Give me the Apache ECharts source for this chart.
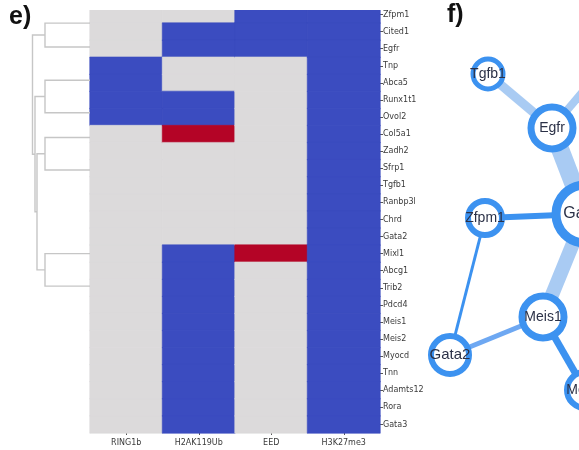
<!DOCTYPE html>
<html>
<head>
<meta charset="utf-8">
<script src="https://cdn.jsdelivr.net/npm/echarts@6/dist/echarts.min.js"></script>
<style>html,body{margin:0;padding:0;background:#fff}#container{width:579px;height:450px}</style>
</head>
<body>
<div id="container"></div>
<script>
// heatmap: 0 = grey, 1 = blue, 2 = red
const genes = ['Zfpm1', 'Cited1', 'Egfr', 'Tnp', 'Abca5', 'Runx1t1', 'Ovol2', 'Col5a1', 'Zadh2', 'Sfrp1',
    'Tgfb1', 'Ranbp3l', 'Chrd', 'Gata2', 'Mixl1', 'Abcg1', 'Trib2', 'Pdcd4', 'Meis1', 'Meis2',
    'Myocd', 'Tnn', 'Adamts12', 'Rora', 'Gata3'];
const marks = ['RING1b', 'H2AK119Ub', 'EED', 'H3K27me3'];
const ring1b = [0, 0, 0, 1, 1, 1, 1, 0, 0, 0, 0, 0, 0, 0, 0, 0, 0, 0, 0, 0, 0, 0, 0, 0, 0];
const h2ak119ub = [0, 1, 1, 0, 0, 1, 1, 2, 0, 0, 0, 0, 0, 0, 1, 1, 1, 1, 1, 1, 1, 1, 1, 1, 1];
const eed = [1, 1, 1, 0, 0, 0, 0, 0, 0, 0, 0, 0, 0, 0, 2, 0, 0, 0, 0, 0, 0, 0, 0, 0, 0];
const h3k27me3 = [1, 1, 1, 1, 1, 1, 1, 1, 1, 1, 1, 1, 1, 1, 1, 1, 1, 1, 1, 1, 1, 1, 1, 1, 1];
const cellColors = ['#dcdadb', '#3b4cc0', '#b40426'];

// dendrogram links (row units / distance units)
const dendroY1 = [0.5, 3.85, 7.2, 14.0, 8.15, 4.8, 1.2];
const dendroY2 = [1.9, 5.75, 9.1, 15.9, 14.95, 11.55, 8.18];
const dendroH = [45, 45, 45, 45, 53, 55, 57.5];
const dendroH1 = [0, 0, 0, 0, 45, 45, 45];
const dendroH2 = [0, 0, 0, 0, 45, 53, 55];

// network
const nodeNames = ['Tgfb1', 'Egfr', 'Gata6', 'Zfpm1', 'Meis1', 'Gata2', 'Meis2', 'Cited1'];
const nodeX = [68, 132, 165, 65, 123, 30, 165, 205];
const nodeY = [74, 128, 214, 218, 317, 355, 390, 42];
const nodeSize = [30, 42, 58, 34, 42, 38, 36, 34];
const nodeRing = [5, 7, 9, 6, 7, 6, 6, 6];
const nodeFont = [14, 14, 16, 14, 14, 15, 14, 14];
const linkSource = ['Tgfb1', 'Egfr', 'Egfr', 'Zfpm1', 'Zfpm1', 'Gata2', 'Meis1', 'Meis1'];
const linkTarget = ['Egfr', 'Gata6', 'Cited1', 'Gata6', 'Gata2', 'Meis1', 'Gata6', 'Meis2'];
const linkWidth = [9, 18, 8, 6, 3, 5, 14, 7];
const linkColor = ['#a9cbf3', '#a9cbf3', '#a9cbf3', '#3c92f0', '#3c92f0', '#6ea8f2', '#a9cbf3', '#3c92f0'];

const columns = [ring1b, h2ak119ub, eed, h3k27me3];
const heatData = [];
columns.forEach((col, c) => col.forEach((v, r) => heatData.push({
    value: [c, r, v],
    itemStyle: { borderColor: cellColors[v], borderWidth: 0.6 }
})));

const dendroData = dendroY1.map((y, i) => [dendroH[i], y, dendroY2[i], dendroH1[i], dendroH2[i]]);

const nodes = nodeNames.map((n, i) => ({
    name: n,
    value: [nodeX[i], nodeY[i]],
    symbolSize: nodeSize[i],
    itemStyle: { color: '#fff', borderColor: '#3c92f0', borderWidth: nodeRing[i] },
    label: { fontSize: nodeFont[i] }
}));
const links = linkSource.map((s, i) => ({
    source: s,
    target: linkTarget[i],
    lineStyle: { width: linkWidth[i], color: linkColor[i], opacity: 1, curveness: 0 }
}));

const gridTop = 6, gridHeight = 427;
const tickFont = { fontFamily: 'DejaVu Sans', fontSize: 8, color: '#3a3a3a' };

let myChart = echarts.init(document.getElementById('container'), null, { renderer: 'canvas' });
let option = {
    animation: false,
    backgroundColor: '#fff',
    grid: [
        { left: 90, top: gridTop, width: 290, height: gridHeight, outerBoundsMode: 'none' },
        { left: 30, top: gridTop, width: 60, height: gridHeight, outerBoundsMode: 'none' },
        { left: 420, top: 0, width: 200, height: 450, outerBoundsMode: 'none' }
    ],
    xAxis: [
        {
            type: 'category', data: marks, gridIndex: 0, position: 'bottom',
            axisLine: { show: false },
            axisTick: { show: true, alignWithLabel: true, length: 2, lineStyle: { color: '#555' } },
            axisLabel: Object.assign({ margin: 6 }, tickFont),
            splitLine: { show: false }
        },
        { type: 'value', gridIndex: 1, min: 0, max: 60, inverse: true, show: false },
        { type: 'value', gridIndex: 2, min: 0, max: 200, show: false }
    ],
    yAxis: [
        {
            type: 'category', data: genes, gridIndex: 0, inverse: true, position: 'right',
            axisLine: { show: false },
            axisTick: { show: true, alignWithLabel: true, length: 3, lineStyle: { color: '#555' } },
            axisLabel: Object.assign({ margin: 3, interval: 0 }, tickFont),
            splitLine: { show: false }
        },
        { type: 'value', gridIndex: 1, min: -0.5, max: 24.5, inverse: true, show: false },
        { type: 'value', gridIndex: 2, min: 0, max: 450, inverse: true, show: false }
    ],
    visualMap: {
        type: 'piecewise', show: false, seriesIndex: 0, dimension: 2,
        pieces: cellColors.map((c, i) => ({ value: i, color: c }))
    },
    series: [
        {
            type: 'heatmap', xAxisIndex: 0, yAxisIndex: 0, data: heatData,
            emphasis: { disabled: true }
        },
        {
            type: 'custom', xAxisIndex: 1, yAxisIndex: 1, data: dendroData, clip: false,
            encode: { x: 0, y: 1 },
            renderItem: function (params, api) {
                const h = api.value(0), y1 = api.value(1), y2 = api.value(2);
                const p = [
                    api.coord([api.value(3), y1]),
                    api.coord([h, y1]),
                    api.coord([h, y2]),
                    api.coord([api.value(4), y2])
                ];
                return {
                    type: 'polyline',
                    shape: { points: p },
                    style: { stroke: '#c6c6c6', lineWidth: 1.4, fill: null }
                };
            }
        },
        {
            type: 'graph', coordinateSystem: 'cartesian2d', xAxisIndex: 2, yAxisIndex: 2,
            layout: 'none', data: nodes, links: links,
            edgeSymbol: ['none', 'none'],
            label: { show: true, position: 'inside', color: '#2b3147', fontFamily: 'Liberation Sans' },
            emphasis: { disabled: true }
        }
    ],
    graphic: [
        { type: 'rect', shape: { x: 88, y: 0, width: 296, height: 10 }, style: { fill: '#fff' }, z: 50 },
        { type: 'text', left: 9, top: 5, z: 60, style: { text: 'e)', font: 'bold 25px "Liberation Sans"', fill: '#111' } },
        { type: 'text', left: 447, top: 3, z: 60, style: { text: 'f)', font: 'bold 25px "Liberation Sans"', fill: '#111' } }
    ]
};
myChart.setOption(option);
</script>
</body>
</html>
